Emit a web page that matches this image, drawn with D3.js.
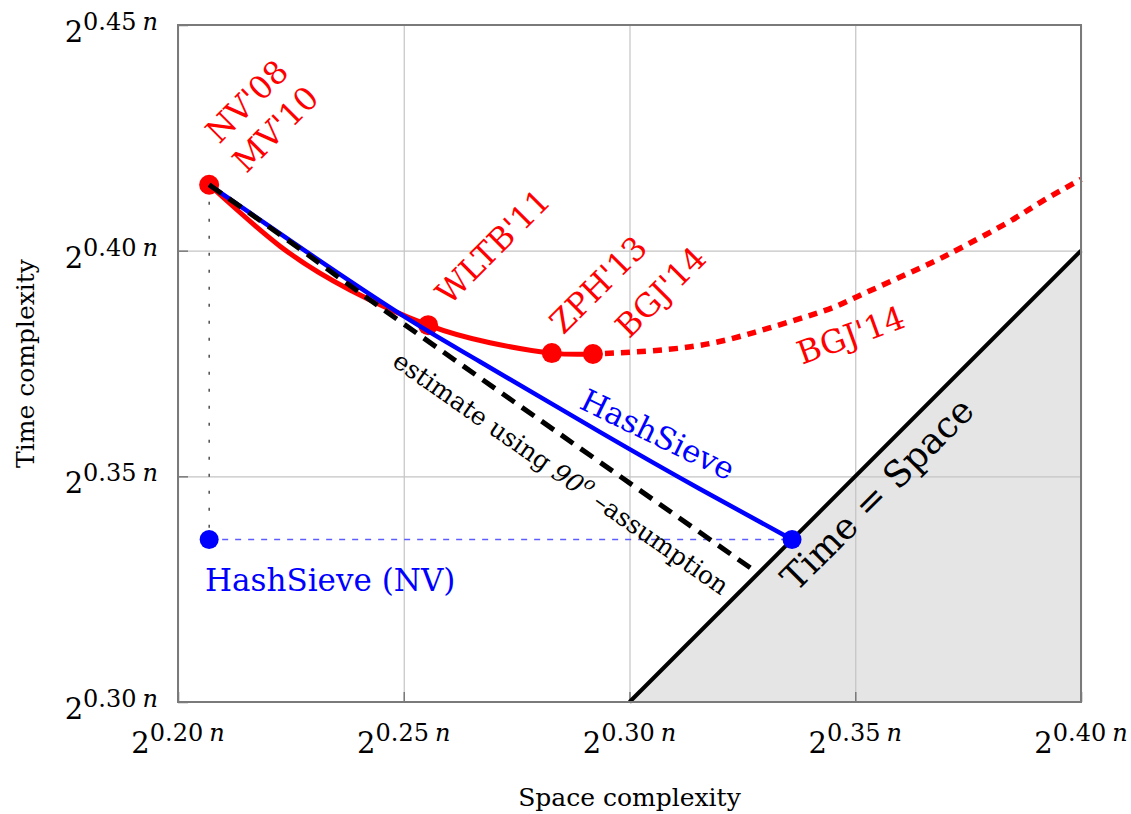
<!DOCTYPE html>
<html>
<head>
<meta charset="utf-8">
<script src="https://cdn.jsdelivr.net/npm/d3@7"></script>
<style>
  body { margin: 0; background: #fff; }
  svg text { font-family: "DejaVu Serif", serif; }
</style>
</head>
<body>
<svg id="chart" width="1131" height="814"></svg>
<script>
// ticks (exponent of 2^{c n})
const xTicks = [0.20, 0.25, 0.30, 0.35, 0.40];
const yTicks = [0.30, 0.35, 0.40, 0.45];
const xTickLabels = ["0.20", "0.25", "0.30", "0.35", "0.40"];
const yTickLabels = ["0.30", "0.35", "0.40", "0.45"];

// previous sieves, solid red trade-off (space, time)
const redSpace = [0.2069, 0.2226, 0.2381, 0.2554, 0.2691, 0.2828, 0.2919];
const redTime  = [0.4146, 0.4010, 0.3913, 0.3835, 0.3796, 0.3773, 0.3771];

// BGJ'14 trade-off, dotted red
const bgjSpace = [0.2919, 0.3135, 0.3297, 0.3429, 0.3504, 0.3651, 0.3726, 0.3837, 0.3910, 0.4000];
const bgjTime  = [0.3771, 0.3787, 0.3825, 0.3866, 0.3898, 0.3965, 0.4002, 0.4062, 0.4107, 0.4158];

// named algorithms (red dots)
const algNames = ["NV'08", "WLTB'11", "ZPH'13", "BGJ'14"];
const algSpace = [0.2069, 0.2554, 0.2828, 0.2919];
const algTime  = [0.4146, 0.3835, 0.3773, 0.3771];

// HashSieve trade-off (blue)
const hashSpace = [0.2069, 0.2281, 0.2498, 0.2669, 0.2935, 0.3156, 0.3360];
const hashTime  = [0.4146, 0.4000, 0.3856, 0.3754, 0.3598, 0.3472, 0.3360];

// HashSieve points (blue dots): NV-style and balanced
const hashPtSpace = [0.2069, 0.3360];
const hashPtTime  = [0.3360, 0.3360];

// estimate using 90 degree assumption (black dashed)
const estSpace = [0.2069, 0.2281, 0.2498, 0.3285];
const estTime  = [0.4146, 0.3996, 0.3839, 0.3285];

// time = space diagonal
const diagSpace = [0.30, 0.40];
const diagTime  = [0.30, 0.40];

const svg = d3.select("#chart");
const x = d3.scaleLinear().domain([0.2, 0.4]).range([178, 1081]);
const y = d3.scaleLinear().domain([0.3, 0.45]).range([702, 25]);
const W = x.range()[1] - x.range()[0];
const H = y.range()[0] - y.range()[1];

const zip = (a, b) => a.map((v, i) => [v, b[i]]);
const line = d3.line().x(d => x(d[0])).y(d => y(d[1]));
const smooth = d3.line().x(d => x(d[0])).y(d => y(d[1])).curve(d3.curveNatural);

// grey region below time = space
svg.append("path")
  .datum(zip(diagSpace, diagTime))
  .attr("d", d3.area().x(d => x(d[0])).y0(y(0.3)).y1(d => y(d[1])))
  .attr("fill", "#e5e5e5");

// grid
const gx = svg.append("g")
  .attr("transform", "translate(0," + y.range()[0] + ")")
  .call(d3.axisBottom(x).tickValues(xTicks).tickSize(-H).tickFormat(""));
const gy = svg.append("g")
  .attr("transform", "translate(" + x.range()[0] + ",0)")
  .call(d3.axisLeft(y).tickValues(yTicks).tickSize(-W).tickFormat(""));
[gx, gy].forEach(g => {
  g.select(".domain").remove();
  g.selectAll("line").attr("stroke", "#c4c4c4").attr("stroke-width", 1.2);
});

// short inner ticks
const tx = svg.append("g")
  .attr("transform", "translate(0," + y.range()[0] + ")")
  .call(d3.axisBottom(x).tickValues(xTicks).tickSizeInner(-10).tickSizeOuter(0).tickFormat(""));
const ty = svg.append("g")
  .attr("transform", "translate(" + x.range()[0] + ",0)")
  .call(d3.axisLeft(y).tickValues(yTicks).tickSizeInner(-10).tickSizeOuter(0).tickFormat(""));
[tx, ty].forEach(g => {
  g.select(".domain").remove();
  g.selectAll("line").attr("stroke", "#7a7a7a").attr("stroke-width", 1.5);
});

// helper lines from NV point
svg.append("path")
  .datum([[hashSpace[0], hashTime[0]], [hashPtSpace[0], hashPtTime[0]]])
  .attr("d", line)
  .attr("stroke", "#222").attr("stroke-width", 1.2)
  .attr("stroke-dasharray", "3,14").attr("fill", "none");
svg.append("path")
  .datum(zip(hashPtSpace, hashPtTime))
  .attr("d", line)
  .attr("stroke", "#5c5cff").attr("stroke-width", 1.3)
  .attr("stroke-dasharray", "6,7").attr("fill", "none");

// time = space
svg.append("path")
  .datum(zip(diagSpace, diagTime))
  .attr("d", line)
  .attr("stroke", "#000").attr("stroke-width", 4).attr("fill", "none");

// red curves
svg.append("path")
  .datum(zip(redSpace, redTime))
  .attr("d", smooth)
  .attr("stroke", "#ff0000").attr("stroke-width", 5).attr("fill", "none");
svg.append("path")
  .datum(zip(bgjSpace, bgjTime))
  .attr("d", smooth)
  .attr("stroke", "#ff0000").attr("stroke-width", 5.5)
  .attr("stroke-dasharray", "9,7").attr("stroke-dashoffset", -12).attr("fill", "none");

svg.append("g").selectAll("circle")
  .data(zip(algSpace, algTime))
  .enter()
  .append("circle")
  .attr("cx", d => x(d[0]))
  .attr("cy", d => y(d[1]))
  .attr("r", 10)
  .attr("fill", "#ff0000");

// HashSieve and estimate
svg.append("path")
  .datum(zip(hashSpace, hashTime))
  .attr("d", smooth)
  .attr("stroke", "#0000ff").attr("stroke-width", 4.5).attr("fill", "none");
svg.append("path")
  .datum(zip(estSpace, estTime))
  .attr("d", smooth)
  .attr("stroke", "#000").attr("stroke-width", 5)
  .attr("stroke-dasharray", "15,9").attr("fill", "none");

svg.append("g").selectAll("circle")
  .data(zip(hashPtSpace, hashPtTime))
  .enter()
  .append("circle")
  .attr("cx", d => x(d[0]))
  .attr("cy", d => y(d[1]))
  .attr("r", 9.5)
  .attr("fill", "#0000ff");

// frame
svg.append("rect")
  .attr("x", x.range()[0]).attr("y", y.range()[1])
  .attr("width", W).attr("height", H)
  .attr("fill", "none").attr("stroke", "#7a7a7a").attr("stroke-width", 2);

// tick labels 2^{c n}
function powLabel(g, c) {
  g.append("tspan").attr("font-size", 29).text("2");
  g.append("tspan").attr("font-size", 24).attr("dy", -12).text(c);
  g.append("tspan").attr("font-size", 24).attr("dx", 6).attr("font-style", "italic").text("n");
}
xTicks.forEach((v, i) => {
  const t = svg.append("text")
    .attr("x", x(v)).attr("y", y.range()[0] + 51)
    .attr("text-anchor", "middle").attr("fill", "#000");
  powLabel(t, xTickLabels[i]);
});
yTicks.forEach((v, i) => {
  const t = svg.append("text")
    .attr("x", x.range()[0] - 20).attr("y", y(v) + 17)
    .attr("text-anchor", "end").attr("fill", "#000");
  powLabel(t, yTickLabels[i]);
});

// axis titles
svg.append("text")
  .attr("x", (x.range()[0] + x.range()[1]) / 2).attr("y", 806)
  .attr("text-anchor", "middle").attr("font-size", 25)
  .text("Space complexity");
svg.append("text")
  .attr("transform", "translate(34," + (y.range()[0] + y.range()[1]) / 2 + ") rotate(-90)")
  .attr("text-anchor", "middle").attr("font-size", 25)
  .text("Time complexity");

// red labels, rotated
const redLabelOffsets = [[10, -40], [21, -19], [11.5, -17.6], [36, -14.5]];
algNames.forEach((name, i) => {
  svg.append("text")
    .attr("transform", "translate(" + (x(algSpace[i]) + redLabelOffsets[i][0]) + "," +
      (y(algTime[i]) + redLabelOffsets[i][1]) + ") rotate(-45)")
    .attr("font-size", 32).attr("fill", "#ff0000")
    .text(name);
});
svg.append("text")
  .attr("transform", "translate(" + (x(algSpace[0]) + 37) + "," + (y(algTime[0]) - 10.5) + ") rotate(-45)")
  .attr("font-size", 32).attr("fill", "#ff0000")
  .text("MV'10");
svg.append("text")
  .attr("transform", "translate(" + x(0.3382) + "," + y(0.3747) + ") rotate(-20)")
  .attr("font-size", 32).attr("fill", "#ff0000")
  .text("BGJ'14");

// blue labels
svg.append("text")
  .attr("transform", "translate(" + x(0.2886) + "," + y(0.3652) + ") rotate(26)")
  .attr("font-size", 31).attr("fill", "#0000ff")
  .text("HashSieve");
svg.append("text")
  .attr("x", x(0.2060)).attr("y", y(0.3246))
  .attr("font-size", 31).attr("fill", "#0000ff")
  .text("HashSieve (NV)");

// estimate label
const est = svg.append("text")
  .attr("transform", "translate(" + x(0.2472) + "," + y(0.3747) + ") rotate(35)")
  .attr("font-size", 25).attr("fill", "#000");
est.append("tspan").text("estimate using ");
est.append("tspan").attr("font-style", "italic").text("90");
est.append("tspan").attr("font-style", "italic").attr("font-size", 18).attr("dy", -11).text("o");
est.append("tspan").attr("dy", 11).text(" \u2013assumption");

svg.append("text")
  .attr("transform", "translate(" + x(0.3369) + "," + y(0.3242) + ") rotate(-45)")
  .attr("font-size", 36).attr("fill", "#000")
  .text("Time = Space");
</script>
</body>
</html>
